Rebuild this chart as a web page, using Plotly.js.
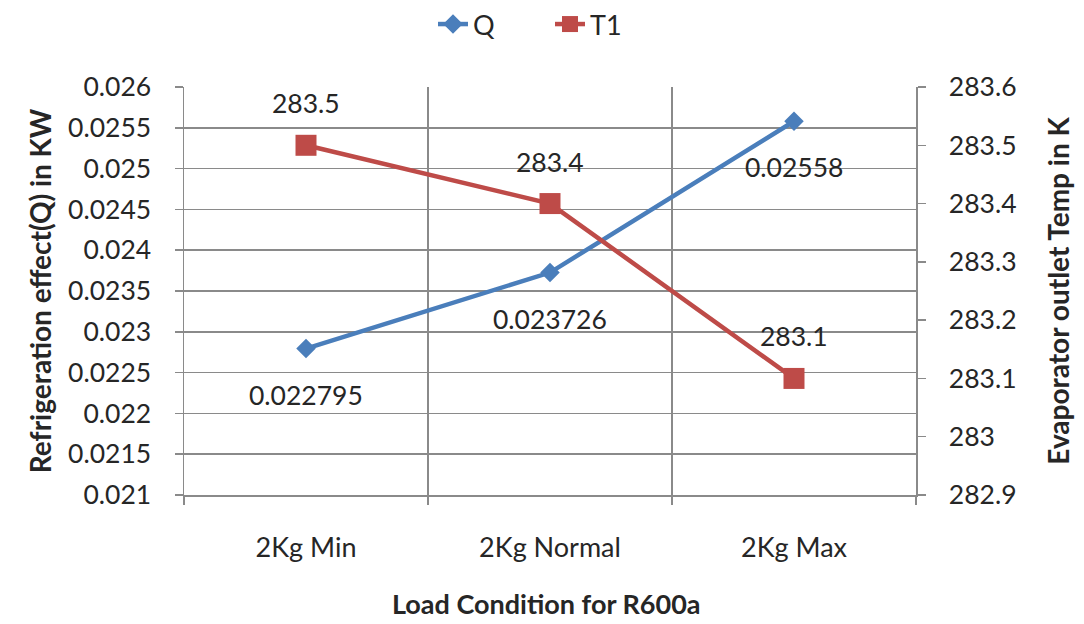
<!DOCTYPE html>
<html>
<head>
<meta charset="utf-8">
<script src="https://cdn.plot.ly/plotly-3.0.1.min.js"></script>
<style>
html,body{margin:0;padding:0;background:#fff;}
#chart{width:1084px;height:624px;}
</style>
</head>
<body>
<div id="chart"></div>
<script>
var categories = ["2Kg Min", "2Kg Normal", "2Kg Max"];
var qValues = [0.022795, 0.023726, 0.02558];
var t1Values = [283.5, 283.4, 283.1];
var qLabels = ["0.022795", "0.023726", "0.02558"];
var t1Labels = ["283.5", "283.4", "283.1"];
var leftTickVals = [0.021, 0.0215, 0.022, 0.0225, 0.023, 0.0235, 0.024, 0.0245, 0.025, 0.0255, 0.026];
var leftTickText = ["0.021", "0.0215", "0.022", "0.0225", "0.023", "0.0235", "0.024", "0.0245", "0.025", "0.0255", "0.026"];
var rightTickVals = [282.9, 283.0, 283.1, 283.2, 283.3, 283.4, 283.5, 283.6];
var rightTickText = ["282.9", "283", "283.1", "283.2", "283.3", "283.4", "283.5", "283.6"];

var FONT = "Lato, 'Noto Sans', 'DejaVu Sans', sans-serif";
var TXT = "#262626";
var GRID = "#8a8a8a";
var BLUE = "#4A7EBB";
var RED = "#BE4B48";
var FS = 26.5;

var traces = [
  {
    x: categories, y: qValues, name: "Q", type: "scatter", mode: "lines+markers",
    yaxis: "y",
    line: {color: BLUE, width: 4.5},
    marker: {symbol: "diamond", size: 15, color: BLUE}
  },
  {
    x: categories, y: t1Values, name: "T1", type: "scatter", mode: "lines+markers",
    yaxis: "y2",
    line: {color: RED, width: 4.5},
    marker: {symbol: "square", size: 21, color: RED}
  }
];

var annotations = [];
for (var i = 0; i < categories.length; i++) {
  annotations.push({
    x: categories[i], y: qValues[i], xref: "x", yref: "y",
    text: qLabels[i], showarrow: false, yshift: -46,
    font: {family: FONT, size: FS, color: TXT}
  });
  annotations.push({
    x: categories[i], y: t1Values[i], xref: "x", yref: "y2",
    text: t1Labels[i], showarrow: false, yshift: 42,
    font: {family: FONT, size: FS, color: TXT}
  });
}

var plotW = 1084 - 184 - 168, plotH = 624 - 87 - 129;
annotations.push({
  x: (546 - 184) / plotW, y: (624 - 129 - 603) / plotH, xref: "paper", yref: "paper",
  xanchor: "center", yanchor: "middle",
  text: "Load Condition for R600a", showarrow: false,
  font: {family: FONT, size: 27, color: TXT, weight: "bold"}
});

var layout = {
  width: 1084, height: 624,
  paper_bgcolor: "#ffffff", plot_bgcolor: "#ffffff",
  margin: {l: 184, r: 168, t: 87, b: 129},
  font: {family: FONT, size: FS, color: TXT},
  showlegend: true,
  legend: {
    orientation: "h", x: 0.5, xanchor: "center", y: 1, yanchor: "top", yref: "container",
    font: {family: FONT, size: 27, color: TXT}, itemwidth: 30, tracegroupgap: 0,
    entrywidth: 72, entrywidthmode: "pixels"
  },
  xaxis: {
    type: "category", range: [-0.5, 2.5], tickson: "boundaries",
    showgrid: true, gridcolor: GRID, gridwidth: 1.5,
    showline: true, linecolor: GRID, linewidth: 1.5,
    ticks: "outside", ticklen: 8, tickcolor: GRID, tickwidth: 1.5,
    ticklabelstandoff: 28,
    tickfont: {family: FONT, size: 27, color: TXT},
    zeroline: false, fixedrange: true
  },
  yaxis: {
    range: [0.021, 0.026], tickvals: leftTickVals, ticktext: leftTickText,
    showgrid: true, gridcolor: GRID, gridwidth: 1.5,
    showline: true, linecolor: GRID, linewidth: 1.5,
    ticks: "outside", ticklen: 8, tickcolor: GRID, tickwidth: 1.5,
    ticklabelstandoff: 18,
    tickfont: {family: FONT, size: FS, color: TXT},
    title: {text: "Refrigeration effect(Q) in KW", standoff: 8,
            font: {family: FONT, size: 28, color: TXT, weight: "bold"}},
    zeroline: false, fixedrange: true
  },
  yaxis2: {
    overlaying: "y", side: "right",
    range: [282.9, 283.6], tickvals: rightTickVals, ticktext: rightTickText,
    showgrid: false,
    showline: true, linecolor: GRID, linewidth: 1.5,
    ticks: "outside", ticklen: 8, tickcolor: GRID, tickwidth: 1.5,
    ticklabelstandoff: 18,
    tickfont: {family: FONT, size: FS, color: TXT},
    title: {text: "Evaporator outlet Temp in K", standoff: 34,
            font: {family: FONT, size: 28, color: TXT, weight: "bold"}},
    zeroline: false, fixedrange: true
  },
  annotations: annotations
};

Plotly.newPlot("chart", traces, layout, {displayModeBar: false, staticPlot: true});
</script>
</body>
</html>
